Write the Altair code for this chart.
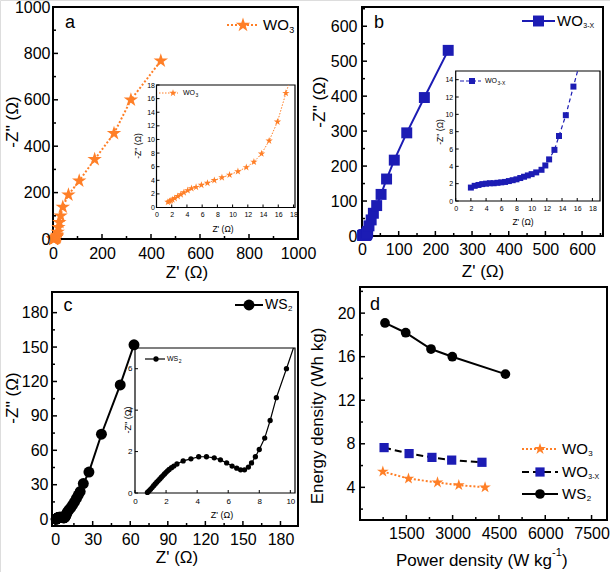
import altair as alt
import pandas as pd

FONT = "Liberation Sans"
ORANGE = "#FF7F27"
BLUE = "#1C1CB4"
BLACK = "#000000"
STAR = ("M0,-1L0.2245,-0.309L0.9511,-0.309L0.3633,0.118L0.5878,0.809L0,0.382"
        "L-0.5878,0.809L-0.3633,0.118L-0.9511,-0.309L-0.2245,-0.309Z")
W, H = 610, 572

# ---------------- data ----------------
# (a) WO3 Nyquist, inset (low Z') and main (high Z')
WO3_IN_X = [1.5, 1.7, 1.9, 2.1, 2.4, 2.8, 3.2, 3.6, 4.1, 4.6, 5.2, 5.9, 6.7, 7.6, 8.6, 9.6, 10.7, 11.8, 12.8, 13.8, 14.8, 15.9, 17.0]
WO3_IN_Y = [0.8, 0.9, 1.0, 1.15, 1.35, 1.65, 1.9, 2.2, 2.5, 2.8, 3.0, 3.3, 3.6, 4.0, 4.4, 4.8, 5.3, 5.9, 6.7, 7.9, 9.8, 12.6, 16.8]
WO3_IN_EXIT_X = [17.35]
WO3_IN_EXIT_Y = [18.0]
WO3_HI_X = [19, 22, 26, 31, 40, 63, 107, 170, 249, 318, 440]
WO3_HI_Y = [30, 50, 72, 100, 138, 190, 251, 343, 455, 600, 768]

# (b) WO3-X Nyquist
WO3X_IN_X = [2.0, 2.5, 3.0, 3.5, 4.0, 4.5, 5.0, 5.5, 6.0, 6.5, 7.0, 7.5, 8.0, 8.5, 9.0, 9.5, 10.0, 10.6, 11.3, 11.8, 12.3, 13.0, 13.6, 14.5, 15.5]
WO3X_IN_Y = [1.55, 1.75, 1.85, 1.95, 2.0, 2.05, 2.05, 2.1, 2.15, 2.2, 2.3, 2.4, 2.5, 2.65, 2.8, 2.95, 3.1, 3.3, 3.6, 4.1, 4.8, 5.9, 7.5, 9.9, 13.2]
WO3X_IN_EXIT_X = [16.05]
WO3X_IN_EXIT_Y = [15.0]
WO3X_HI_X = [19, 25, 31, 40, 52, 67, 88, 122, 170, 235]
WO3X_HI_Y = [29, 46, 65, 87, 119, 163, 217, 295, 396, 531]

# (c) WS2 Nyquist
WS2_IN_X = [0.8, 0.9, 1.0, 1.1, 1.2, 1.3, 1.4, 1.5, 1.6, 1.7, 1.8, 1.9, 2.0, 2.1, 2.2, 2.35, 2.5,
            2.7, 3.1, 3.6, 4.1, 4.6, 5.1, 5.5, 5.9, 6.25, 6.55, 6.8, 7.05, 7.3, 7.5, 7.75, 8.0, 8.35, 8.7, 9.1, 9.75]
WS2_IN_Y = [0.03, 0.1, 0.18, 0.26, 0.35, 0.44, 0.52, 0.6, 0.68, 0.76, 0.84, 0.92, 1.0, 1.07, 1.14, 1.22, 1.3,
            1.4, 1.55, 1.65, 1.75, 1.75, 1.7, 1.6, 1.45, 1.3, 1.2, 1.12, 1.12, 1.25, 1.45, 1.75, 2.1, 2.65, 3.5, 4.6, 6.0]
WS2_IN_EXIT_X = [10.2]
WS2_IN_EXIT_Y = [7.0]
WS2_HI_X = [11, 12.5, 14, 15.5, 17, 18.5, 20, 22.5, 27, 37, 52, 63]
WS2_HI_Y = [8, 10, 12.5, 15, 18, 21, 24, 31, 41, 74, 117, 152]

# (d) Ragone plot
D_WO3_X = [740, 1570, 2510, 3200, 4050]
D_WO3_Y = [5.45, 4.8, 4.45, 4.2, 4.0]
D_WO3X_X = [780, 1590, 2330, 2970, 3950]
D_WO3X_Y = [7.65, 7.1, 6.75, 6.5, 6.3]
D_WS2_X = [810, 1480, 2300, 2990, 4710]
D_WS2_Y = [19.1, 18.2, 16.7, 16.0, 14.4]

# tick values
A_TICKS = [0, 200, 400, 600, 800, 1000]
A_MINOR = [100, 300, 500, 700, 900]
B_TICKS = [0, 100, 200, 300, 400, 500, 600]
B_MINOR = [50, 150, 250, 350, 450, 550, 650]
C_TICKS = [0, 30, 60, 90, 120, 150, 180]
C_MINOR = [15, 45, 75, 105, 135, 165]
D_XTICKS = [1500, 3000, 4500, 6000, 7500]
D_XMINOR = [750, 2250, 3750, 5250, 6750]
D_YTICKS = [4, 8, 12, 16, 20]
D_YMINOR = [2, 6, 10, 14, 18, 22]
IN18_TICKS = [0, 2, 4, 6, 8, 10, 12, 14, 16, 18]
IN14_TICKS = [0, 2, 4, 6, 8, 10, 12, 14]
INC_XTICKS = [0, 2, 4, 6, 8, 10]
INC_YTICKS = [0, 2, 4, 6]

ONE = pd.DataFrame({"k": [0]})

# ---------------- geometry of the panels ----------------
PA = dict(xdom=[0, 1000], xrng=[53, 298], ydom=[0, 1000], yrng=[239, 7])
PAI = dict(xdom=[0, 18.2], xrng=[156.5, 295], ydom=[0, 18], yrng=[207.5, 85])
PB = dict(xdom=[0, 657], xrng=[362, 603], ydom=[0, 655], yrng=[236, 7])
PBI = dict(xdom=[0, 19], xrng=[455.7, 600], ydom=[0, 15], yrng=[201, 71])
PC = dict(xdom=[-2.5, 194], xrng=[52, 298], ydom=[-6, 198], yrng=[526, 292])
PCI = dict(xdom=[0, 10.3], xrng=[135, 295], ydom=[0, 7], yrng=[493, 348])
PD = dict(xdom=[0, 8000], xrng=[360, 607], ydom=[1, 22.4], yrng=[520, 287])


def sc(dom, rng):
    return alt.Scale(domain=dom, range=rng, nice=False, zero=False)


def frame(p, sw, fill_opacity):
    return alt.Chart(ONE).mark_rect(
        stroke="black", strokeWidth=sw, fill="white", fillOpacity=fill_opacity
    ).encode(x=alt.value(p["xrng"][0]), x2=alt.value(p["xrng"][1]),
             y=alt.value(p["yrng"][1]), y2=alt.value(p["yrng"][0]))


def axes(p, xmaj, xmin, ymaj, ymin, fs, xpad, ypad, lmaj, lmin, tw):
    xs = sc(p["xdom"], p["xrng"])
    ys = sc(p["ydom"], p["yrng"])
    ybot = p["yrng"][0]
    xl = p["xrng"][0]
    common = dict(ticks=False, domain=False, grid=False, labelFont=FONT,
                  labelFontSize=fs, labelFlush=False, labelOverlap=False,
                  labelColor="black", title=None, format="d", zindex=1)
    xax = alt.Axis(orient="bottom", offset=ybot - H, values=xmaj, labelPadding=xpad, **common)
    yax = alt.Axis(orient="left", offset=-xl, values=ymaj, labelPadding=ypad, **common)
    out = [
        alt.Chart(pd.DataFrame({"x": xmaj})).mark_tick(
            orient="vertical", color="black", thickness=tw, size=lmaj, opacity=1
        ).encode(x=alt.X("x:Q", scale=xs, axis=xax), y=alt.value(ybot - lmaj / 2)),
        alt.Chart(pd.DataFrame({"y": ymaj})).mark_tick(
            orient="horizontal", color="black", thickness=tw, size=lmaj, opacity=1
        ).encode(y=alt.Y("y:Q", scale=ys, axis=yax), x=alt.value(xl + lmaj / 2)),
    ]
    if xmin:
        out.append(alt.Chart(pd.DataFrame({"x": xmin})).mark_tick(
            orient="vertical", color="black", thickness=tw, size=lmin, opacity=1
        ).encode(x=alt.X("x:Q", scale=xs, axis=None), y=alt.value(ybot - lmin / 2)))
    if ymin:
        out.append(alt.Chart(pd.DataFrame({"y": ymin})).mark_tick(
            orient="horizontal", color="black", thickness=tw, size=lmin, opacity=1
        ).encode(y=alt.Y("y:Q", scale=ys, axis=None), x=alt.value(xl + lmin / 2)))
    return out


def series(p, xs, ys, line_kw, pt_kw, lx=None, ly=None):
    df = pd.DataFrame({"x": xs, "y": ys, "i": list(range(len(xs)))})
    if lx is None:
        ldf = df
    else:
        ldf = pd.DataFrame({"x": lx, "y": ly, "i": list(range(len(lx)))})
    enc = dict(x=alt.X("x:Q", scale=sc(p["xdom"], p["xrng"]), axis=None),
               y=alt.Y("y:Q", scale=sc(p["ydom"], p["yrng"]), axis=None))
    line = alt.Chart(ldf).mark_line(**line_kw).encode(order="i:Q", **enc)
    pts = alt.Chart(df).mark_point(opacity=1, filled=True, **pt_kw).encode(**enc)
    return [line, pts]


def text(x, y, s, fs, angle=0, align="center", baseline="middle"):
    kw = dict(text=s, font=FONT, fontSize=fs, color="black", align=align, baseline=baseline)
    if angle:
        kw["angle"] = angle
    return alt.Chart(ONE).mark_text(**kw).encode(x=alt.value(x), y=alt.value(y))


def subtext(x, y, main, sub, fs, sub_fs, main_w_em):
    return [text(x, y, main, fs, align="left"),
            text(x + main_w_em * fs + 0.5, y + fs * 0.32, sub, sub_fs, align="left")]


def legend(x1, x2, y, lcolor, dash, sw, shape, size, mcolor, mx=None):
    rule_kw = dict(color=lcolor, strokeWidth=sw)
    if dash:
        rule_kw["strokeDash"] = dash
    r = alt.Chart(ONE).mark_rule(**rule_kw).encode(
        x=alt.value(x1), x2=alt.value(x2), y=alt.value(y))
    m = alt.Chart(ONE).mark_point(shape=shape, size=size, filled=True, color=mcolor, opacity=1).encode(
        x=alt.value((x1 + x2) / 2 if mx is None else mx), y=alt.value(y))
    return [r, m]


layers = []

# ---- main frames and axes ----
layers.append(frame(PA, 2, 0))
layers += axes(PA, A_TICKS, A_MINOR, A_TICKS, A_MINOR, 16, 6, 3, 5, 3, 1.5)
layers.append(frame(PB, 2, 0))
layers += axes(PB, B_TICKS, B_MINOR, B_TICKS, B_MINOR, 16, 5, 5, 5, 3, 1.5)
layers.append(frame(PC, 2, 0))
layers += axes(PC, C_TICKS, C_MINOR, C_TICKS, C_MINOR, 16, 5, 4, 5, 3, 1.5)
layers.append(frame(PD, 2, 0))
layers += axes(PD, D_XTICKS, D_XMINOR, D_YTICKS, D_YMINOR, 16, 5, 5, 5, 3, 1.5)

# ---- insets ----
layers.append(frame(PAI, 1.2, 1))
layers += axes(PAI, IN18_TICKS, None, IN18_TICKS, None, 7, 3, 2, 3, 2, 1)
layers += series(PAI, WO3_IN_X, WO3_IN_Y,
                 dict(color=ORANGE, strokeWidth=1, strokeDash=[1.5, 1.5]),
                 dict(shape=STAR, size=60, color=ORANGE),
                 WO3_IN_X + WO3_IN_EXIT_X, WO3_IN_Y + WO3_IN_EXIT_Y)
layers += legend(159, 178, 93, ORANGE, [1.5, 1.5], 1, STAR, 60, ORANGE, mx=173)
layers += subtext(183, 93, "WO", "3", 7, 5, 1.72)
layers.append(text(223, 229, "Z' (\u03a9)", 8.5))
layers.append(text(138, 146, "-Z'' (\u03a9)", 8.5, angle=270))

layers.append(frame(PBI, 1.2, 1))
layers += axes(PBI, IN18_TICKS, None, IN14_TICKS, None, 7, 3, 3, 3, 2, 1)
layers += series(PBI, WO3X_IN_X, WO3X_IN_Y,
                 dict(color=BLUE, strokeWidth=1.2, strokeDash=[4, 3]),
                 dict(shape="square", size=36, color=BLUE),
                 WO3X_IN_X + WO3X_IN_EXIT_X, WO3X_IN_Y + WO3X_IN_EXIT_Y)
layers += legend(460, 481, 81, BLUE, [4, 2], 1.2, "square", 36, BLUE, mx=472)
layers += subtext(485, 81, "WO", "3-X", 7, 5, 1.72)
layers.append(text(523, 222, "Z' (\u03a9)", 8.5))
layers.append(text(440, 132, "-Z'' (\u03a9)", 8.5, angle=270))

layers.append(frame(PCI, 1.2, 1))
layers += axes(PCI, INC_XTICKS, None, INC_YTICKS, None, 8, 4, 3, 3, 2, 1)
layers += series(PCI, WS2_IN_X, WS2_IN_Y,
                 dict(color=BLACK, strokeWidth=1.2),
                 dict(shape="circle", size=28, color=BLACK),
                 WS2_IN_X + WS2_IN_EXIT_X, WS2_IN_Y + WS2_IN_EXIT_Y)
layers += legend(145, 165, 359, BLACK, None, 1.2, "circle", 28, BLACK, mx=156)
layers += subtext(167, 359, "WS", "2", 7, 5, 1.61)
layers.append(text(222, 515, "Z' (\u03a9)", 9))
layers.append(text(128, 420, "-Z'' (\u03a9)", 9, angle=270))

# ---- main data ----
layers += series(PA, WO3_IN_X + WO3_HI_X, WO3_IN_Y + WO3_HI_Y,
                 dict(color=ORANGE, strokeWidth=2, strokeDash=[2, 2]),
                 dict(shape=STAR, size=230, color=ORANGE))
layers += series(PB, WO3X_IN_X + WO3X_HI_X, WO3X_IN_Y + WO3X_HI_Y,
                 dict(color=BLUE, strokeWidth=2),
                 dict(shape="square", size=120, color=BLUE))
layers += series(PC, WS2_IN_X + WS2_HI_X, WS2_IN_Y + WS2_HI_Y,
                 dict(color=BLACK, strokeWidth=2),
                 dict(shape="circle", size=120, color=BLACK))
layers += series(PD, D_WO3_X, D_WO3_Y,
                 dict(color=ORANGE, strokeWidth=2, strokeDash=[2, 2]),
                 dict(shape=STAR, size=150, color=ORANGE))
layers += series(PD, D_WO3X_X, D_WO3X_Y,
                 dict(color=BLACK, strokeWidth=2, strokeDash=[7, 4]),
                 dict(shape="square", size=85, color=BLUE))
layers += series(PD, D_WS2_X, D_WS2_Y,
                 dict(color=BLACK, strokeWidth=2),
                 dict(shape="circle", size=95, color=BLACK))

# ---- main legends ----
layers += legend(227, 259, 25, ORANGE, [2, 2], 2, STAR, 230, ORANGE)
layers += subtext(263, 25, "WO", "3", 15, 9, 1.72)
layers += legend(522, 555, 21, BLUE, None, 2, "square", 120, BLUE)
layers += subtext(557, 21, "WO", "3-X", 15, 7, 1.72)
layers += legend(235, 263, 305, BLACK, None, 2, "circle", 120, BLACK)
layers += subtext(265, 305, "WS", "2", 14, 8, 1.61)
layers += legend(522, 558, 449, ORANGE, [2, 2], 2, STAR, 150, ORANGE)
layers += subtext(562, 449, "WO", "3", 15, 8, 1.72)
layers += legend(522, 558, 472, BLACK, [7, 4], 2, "square", 85, BLUE)
layers += subtext(562, 472, "WO", "3-X", 15, 7, 1.72)
layers += legend(522, 558, 494, BLACK, None, 2, "circle", 95, BLACK)
layers += subtext(562, 494, "WS", "2", 15, 8, 1.61)

# ---- panel letters and axis titles ----
layers.append(text(70, 23, "a", 18))
layers.append(text(379, 23, "b", 18))
layers.append(text(68, 306, "c", 18))
layers.append(text(375, 305, "d", 18))

layers.append(text(13, 122, "-Z'' (\u03a9)", 17, angle=270))
layers.append(text(187, 273, "Z' (\u03a9)", 17))
layers.append(text(320, 102, "-Z'' (\u03a9)", 17, angle=270))
layers.append(text(483, 272, "Z' (\u03a9)", 17))
layers.append(text(13, 398, "-Z'' (\u03a9)", 17, angle=270))
layers.append(text(177, 558, "Z' (\u03a9)", 17))
layers.append(text(318, 416, "Energy density (Wh kg)", 17, angle=270))
layers.append(text(396, 561, "Power density (W kg", 17, align="left"))
layers.append(text(552, 553, "-1", 11, align="left"))
layers.append(text(562, 561, ")", 17, align="left"))

chart = alt.layer(*layers).resolve_scale(x="independent", y="independent").properties(
    width=W, height=H, autosize=alt.AutoSizeParams(type="none"), padding=0
).configure_view(stroke=None).configure(background="white")

chart.save("out.html", embed_options={"renderer": "svg", "actions": False})
